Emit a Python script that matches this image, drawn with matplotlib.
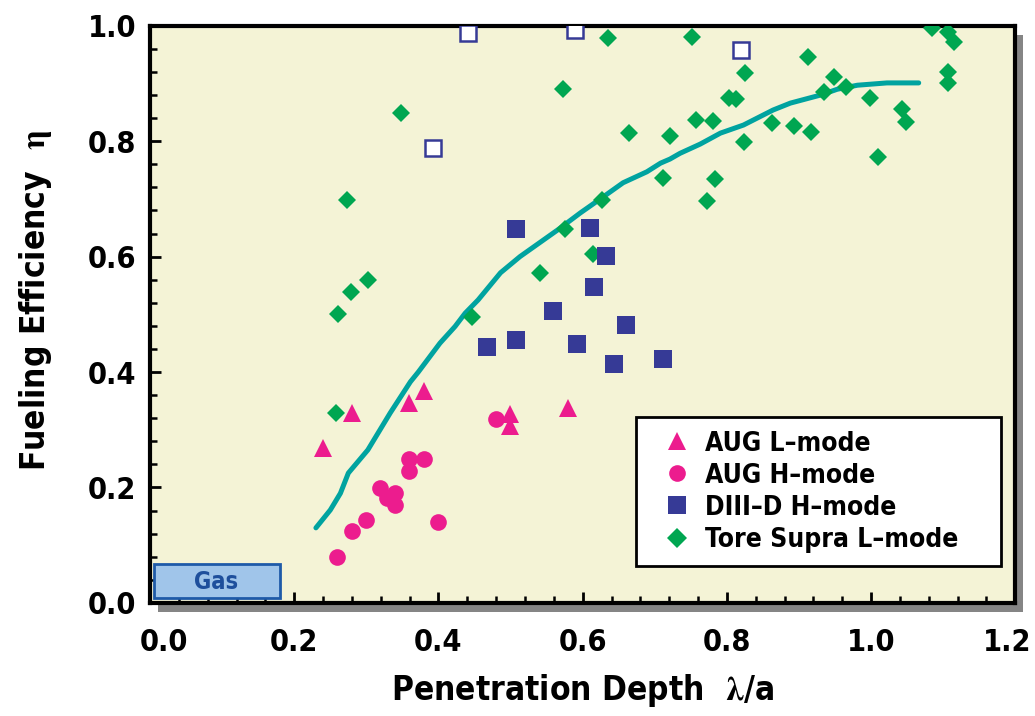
import matplotlib
matplotlib.use('Agg')
import matplotlib.pyplot as plt
import matplotlib.transforms as mtransforms
from matplotlib.patches import Rectangle
from matplotlib.lines import Line2D

plt.rcParams['font.family'] = ['DejaVu Sans']
plt.rcParams['font.stretch'] = 'condensed'
plt.rcParams['font.weight'] = 'bold'
plt.rcParams['mathtext.fontset'] = 'stix'

# Data
aug_l_x = [0.240, 0.280, 0.359, 0.380, 0.499, 0.499, 0.580]
aug_l_y = [0.269, 0.329, 0.347, 0.367, 0.328, 0.307, 0.338]

aug_h_x = [0.259, 0.280, 0.300, 0.319, 0.329, 0.340, 0.340, 0.359, 0.359, 0.380, 0.400, 0.480]
aug_h_y = [0.080, 0.125, 0.144, 0.199, 0.181, 0.190, 0.170, 0.250, 0.229, 0.250, 0.140, 0.319]

d3d_x = [0.467, 0.508, 0.508, 0.559, 0.592, 0.610, 0.616, 0.633, 0.644, 0.660, 0.712]
d3d_y = [0.444, 0.456, 0.648, 0.505, 0.449, 0.650, 0.548, 0.601, 0.414, 0.482, 0.423]

# open squares (no legend entry)
open_x = [0.393, 0.441, 0.590, 0.820]
open_y = [0.789, 0.988, 0.993, 0.958]

tore_x = [0.573, 0.348, 0.273, 0.302, 0.279, 0.261, 0.258, 0.447, 0.541, 0.576,
          0.614, 0.627, 0.635, 0.664, 0.711, 0.721, 0.751, 0.757, 0.773, 0.781,
          0.784, 0.803, 0.813, 0.824, 0.825, 0.863, 0.893, 0.913, 0.916, 0.935,
          0.948, 0.965, 0.999, 1.010, 1.043, 1.049, 1.084, 1.106, 1.107, 1.107,
          1.115]
tore_y = [0.891, 0.849, 0.698, 0.560, 0.539, 0.501, 0.329, 0.496, 0.572, 0.648,
          0.605, 0.698, 0.978, 0.814, 0.737, 0.809, 0.981, 0.836, 0.697, 0.835,
          0.735, 0.874, 0.873, 0.799, 0.918, 0.831, 0.827, 0.946, 0.816, 0.886,
          0.912, 0.894, 0.874, 0.772, 0.856, 0.834, 0.997, 0.901, 0.920, 0.990,
          0.972]

fit_x = [0.230, 0.250, 0.264, 0.275, 0.302, 0.333, 0.361, 0.372, 0.402, 0.423,
         0.437, 0.455, 0.486, 0.513, 0.565, 0.597, 0.629, 0.656, 0.689, 0.708,
         0.721, 0.735, 0.763, 0.791, 0.823, 0.864, 0.888, 0.930, 0.953, 0.981,
         1.022, 1.066]
fit_y = [0.130, 0.161, 0.190, 0.225, 0.265, 0.329, 0.383, 0.400, 0.450, 0.479,
         0.502, 0.525, 0.572, 0.600, 0.646, 0.676, 0.704, 0.728, 0.747, 0.762,
         0.769, 0.779, 0.795, 0.814, 0.828, 0.854, 0.866, 0.880, 0.890, 0.897,
         0.901, 0.901]

xticks = [0.0, 0.2, 0.4, 0.6, 0.8, 1.0, 1.2]
yticks = [0.0, 0.2, 0.4, 0.6, 0.8, 1.0]

magenta = '#EC1C8E'
navy = '#363A96'
green = '#00A651'
teal = '#00A3A0'

fig = plt.figure(figsize=(10.35, 7.16), dpi=100)
ax = fig.add_axes([0.145, 0.158, 0.836, 0.806])
ax.set_facecolor('#F4F3D6')

# drop shadow behind the plot frame
pos = ax.get_position()
shadow = Rectangle((pos.x0 + 8 / 1035, pos.y0 - 9 / 716), pos.width, pos.height,
                   transform=fig.transFigure, facecolor='#858585', edgecolor='none', zorder=-1)
fig.patches.append(shadow)

ax.plot(fit_x, fit_y, color=teal, lw=3.6, solid_capstyle='round', zorder=2)
ax.plot(tore_x, tore_y, 'D', color=green, ms=9.5, mew=0, zorder=3)
ax.plot(d3d_x, d3d_y, 's', color=navy, ms=13, mew=0, zorder=3)
ax.plot(open_x, open_y, 's', mfc='white', mec=navy, ms=12, mew=1.8, zorder=3)
ax.plot(aug_h_x, aug_h_y, 'o', color=magenta, ms=12, mew=0, zorder=3)
ax.plot(aug_l_x, aug_l_y, '^', color=magenta, ms=13, mew=0, zorder=3)

# "Gas" box
ax.add_patch(Rectangle((0.006, 0.009), 0.174, 0.059, facecolor='#A0C5EA',
                       edgecolor='#1E5AA8', lw=2, zorder=4))
ax.text(0.092, 0.037, 'Gas', color='#1E4F9C', fontsize=17, fontweight='bold',
        ha='center', va='center', zorder=5)

ax.set_xlim(0, 1.2)
ax.set_ylim(0, 1.0)
ax.set_xticks(xticks)
ax.set_yticks(yticks)
ax.set_xticklabels(['%.1f' % v for v in xticks])
ax.set_yticklabels(['%.1f' % v for v in yticks])
ax.xaxis.set_minor_locator(matplotlib.ticker.MultipleLocator(0.04))
ax.yaxis.set_minor_locator(matplotlib.ticker.MultipleLocator(0.04))
ax.tick_params(which='major', direction='in', length=8, width=2, labelsize=22)
ax.tick_params(which='minor', direction='in', length=5, width=1.8)
ax.tick_params(axis='y', which='major', pad=10)
ax.tick_params(axis='x', which='major', pad=18)
for sp in ax.spines.values():
    sp.set_linewidth(3)

# end x labels are nudged inward in the original
xlabs = ax.get_xticklabels()
xlabs[0].set_transform(xlabs[0].get_transform() +
                       mtransforms.ScaledTranslation(10 / 72, 0, fig.dpi_scale_trans))
xlabs[-1].set_transform(xlabs[-1].get_transform() +
                        mtransforms.ScaledTranslation(-6 / 72, 0, fig.dpi_scale_trans))

ax.set_xlabel(r'Penetration Depth  $\mathrm{\lambda}$/a', fontsize=24, fontweight='bold')
ax.set_ylabel(r'Fueling Efficiency  $\mathrm{\eta}$', fontsize=24, fontweight='bold')
ax.xaxis.set_label_coords(0.5, -0.151)
ax.yaxis.set_label_coords(-0.132, 0.525)
ax.xaxis.label.set_va('center')
ax.yaxis.label.set_va('center')

handles = [
    Line2D([], [], ls='none', marker='^', color=magenta, ms=13, mew=0),
    Line2D([], [], ls='none', marker='o', color=magenta, ms=12, mew=0),
    Line2D([], [], ls='none', marker='s', color=navy, ms=13, mew=0),
    Line2D([], [], ls='none', marker='D', color=green, ms=10, mew=0),
]
labels = ['AUG L\u2013mode', 'AUG H\u2013mode', 'DIII\u2013D H\u2013mode', 'Tore Supra L\u2013mode']
leg = ax.legend(handles, labels, loc='lower left', bbox_to_anchor=(0.562, 0.064, 0.422, 0.26),
                mode='expand', fontsize=19, frameon=True, fancybox=False, framealpha=1,
                edgecolor='black', borderpad=0.5, labelspacing=0.23, handlelength=2.1,
                handletextpad=0.0, borderaxespad=0)
leg.get_frame().set_linewidth(2)
leg.set_zorder(6)

fig.savefig('out.png', dpi=100)
